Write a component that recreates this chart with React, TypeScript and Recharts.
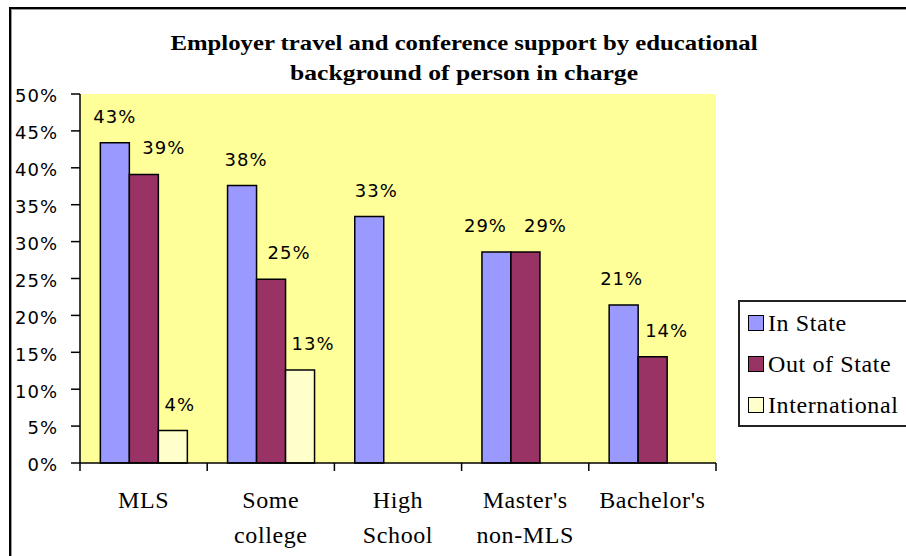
import { BarChart, Bar, XAxis, YAxis, CartesianGrid, LabelList } from 'recharts';

const categories = ['MLS', 'Some college', 'High School', "Master's non-MLS", "Bachelor's"];
const categoryLines = [['MLS'], ['Some', 'college'], ['High', 'School'], ["Master's", 'non-MLS'], ["Bachelor's"]];
const inState = [43.4, 37.6, 33.4, 28.6, 21.4];
const outOfState = [39.1, 24.9, null, 28.6, 14.4];
const international = [4.4, 12.6, null, null, null];
const yTicks = [0, 5, 10, 15, 20, 25, 30, 35, 40, 45, 50];

const titleLines = ['Employer travel and conference support by educational', 'background of person in charge'];

const series = [
  { key: 'inState', name: 'In State', color: '#9999FF', labelDx: [0, 4, 7, -11, -2] },
  { key: 'outOfState', name: 'Out of State', color: '#993366', labelDx: [20, 18, 0, 20, 14] },
  { key: 'international', name: 'International', color: '#FFFFCC', labelDx: [7, 13, 0, 0, 0] },
];

const data = categories.map((c, i) => ({
  category: c,
  inState: inState[i],
  outOfState: outOfState[i],
  international: international[i],
}));

const W = 906;
const H = 556;
const PLOT_LEFT = 80;
const PLOT_W = 636;
const BAND = PLOT_W / categories.length;

const sansFont = '"DejaVu Sans", sans-serif';
const serifFont = 'Times New Roman, Liberation Serif, serif';

function CategoryTick(props: any) {
  const { x, y, index } = props;
  const lines = categoryLines[index] || [];
  return (
    <g>
      <line x1={x - BAND / 2} x2={x - BAND / 2} y1={y} y2={y + 8} stroke="#000" strokeWidth={1.5} />
      {index === categories.length - 1 && (
        <line x1={x + BAND / 2} x2={x + BAND / 2} y1={y} y2={y + 8} stroke="#000" strokeWidth={1.5} />
      )}
      {lines.map((t, i) => (
        <text
          key={t}
          x={x}
          y={y + 45 + i * 35}
          textAnchor="middle"
          fontFamily={serifFont}
          fontSize={24}
          letterSpacing={0.6}
          fill="#000"
        >
          {t}
        </text>
      ))}
    </g>
  );
}

function makeLabel(dx: number[]) {
  return (props: any) => {
    const { x, y, width, value } = props;
    if (value == null) return null;
    const cat = Math.floor((x - PLOT_LEFT) / BAND);
    return (
      <text
        x={x + width / 2 + (dx[cat] || 0)}
        y={y - 20}
        textAnchor="middle"
        fontFamily={sansFont}
        fontSize={18}
        letterSpacing={1}
        fill="#000"
      >
        {Math.round(value)}%
      </text>
    );
  };
}

export default function App() {
  return (
    <div style={{ position: 'absolute', left: 0, top: 0, width: W, height: H, overflow: 'hidden', background: '#fff' }}>
      <div
        style={{
          position: 'absolute',
          left: 9,
          top: 7,
          width: 1200,
          height: 1200,
          borderTop: '2px solid #000',
          borderLeft: '2px solid #000',
          boxShadow: 'inset 1px 1px 0 #999',
        }}
      />
      <BarChart
        width={W}
        height={H}
        data={data}
        margin={{ top: 94, right: 190, bottom: 0, left: 10 }}
        barCategoryGap="16%"
        barGap={0}
        style={{ position: 'absolute', left: 0, top: 0 }}
      >
        <CartesianGrid fill="#FFFF99" horizontal={false} vertical={false} />
        <XAxis
          xAxisId="top"
          orientation="top"
          dataKey="category"
          height={0}
          tick={false}
          tickLine={false}
          axisLine={{ stroke: '#808080', strokeWidth: 1.5 }}
        />
        <YAxis
          yAxisId="right"
          orientation="right"
          width={0}
          domain={[0, 50]}
          tick={false}
          tickLine={false}
          axisLine={{ stroke: '#808080', strokeWidth: 1.5 }}
        />
        <XAxis
          dataKey="category"
          height={93}
          interval={0}
          tickSize={0}
          tickMargin={0}
          tickLine={false}
          axisLine={{ stroke: '#000', strokeWidth: 1.5 }}
          tick={<CategoryTick />}
        />
        <YAxis
          width={70}
          domain={[0, 50]}
          ticks={yTicks}
          interval={0}
          tickSize={9}
          tickMargin={13}
          tickFormatter={(v: number) => `${v}%`}
          axisLine={{ stroke: '#000', strokeWidth: 1.5 }}
          tickLine={{ stroke: '#000', strokeWidth: 1.5 }}
          tick={{ fontFamily: sansFont, fontSize: 18, fill: '#000', letterSpacing: 1, dy: 2 }}
        />
        {series.map((s) => (
          <Bar
            key={s.key}
            dataKey={s.key}
            name={s.name}
            fill={s.color}
            stroke="#000"
            strokeWidth={1.5}
            isAnimationActive={false}
          >
            <LabelList dataKey={s.key} content={makeLabel(s.labelDx)} />
          </Bar>
        ))}
      </BarChart>
      <svg width={W} height={100} style={{ position: 'absolute', left: 0, top: 0 }}>
        <text
          x={464}
          y={50}
          textAnchor="middle"
          fontFamily={serifFont}
          fontWeight="bold"
          fontSize={21}
          textLength={587}
          lengthAdjust="spacingAndGlyphs"
        >
          {titleLines[0]}
        </text>
        <text
          x={464}
          y={80}
          textAnchor="middle"
          fontFamily={serifFont}
          fontWeight="bold"
          fontSize={21}
          textLength={348}
          lengthAdjust="spacingAndGlyphs"
        >
          {titleLines[1]}
        </text>
      </svg>
      <div
        style={{
          position: 'absolute',
          left: 738,
          top: 300,
          width: 220,
          height: 123,
          border: '2px solid #222',
          background: '#fff',
          fontFamily: serifFont,
          fontSize: 24,
          letterSpacing: 0.6,
          color: '#000',
        }}
      >
        {series.map((s, i) => (
          <div
            key={s.key}
            style={{ position: 'absolute', left: 8, top: 6 + i * 41, height: 30, display: 'flex', alignItems: 'center', whiteSpace: 'nowrap' }}
          >
            <span
              style={{
                display: 'inline-block',
                width: 14,
                height: 14,
                background: s.color,
                border: '1.5px solid #000',
                marginRight: 4,
              }}
            />
            <span>{s.name}</span>
          </div>
        ))}
      </div>
    </div>
  );
}
